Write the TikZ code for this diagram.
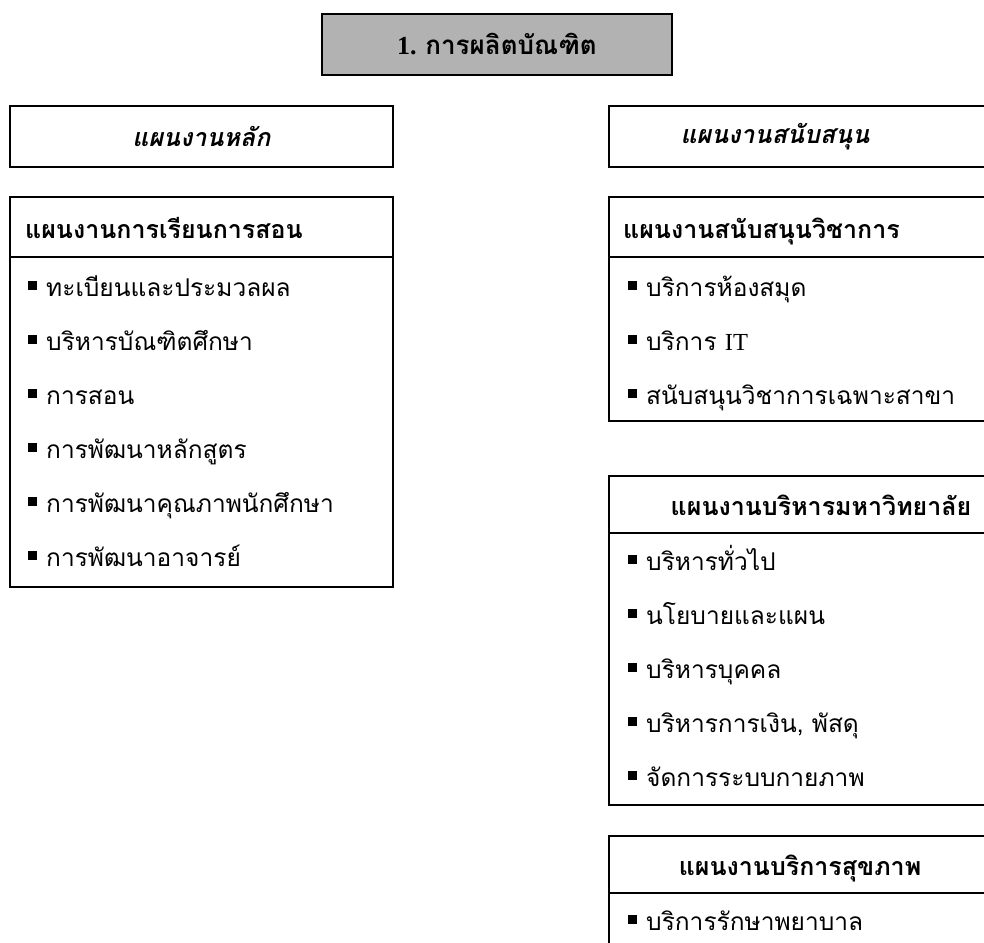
\documentclass[tikz,border=0pt]{standalone}
\usepackage{fontspec}
\setmainfont{Liberation Serif}
\newfontfamily\thaifont[Script=Thai]{Loma}
\usetikzlibrary{positioning}
\newcommand{\sqb}{\rule[6pt]{9pt}{9pt}\hspace{9pt}}

\begin{document}
\begin{tikzpicture}[x=1pt,y=-1pt,
  box/.style={draw,line width=2.5pt},
  hdtext/.style={inner sep=0pt,font=\thaifont\fontsize{25}{29}\selectfont\bfseries},
  ittext/.style={inner sep=0pt,font=\thaifont\fontsize{25}{29}\selectfont\bfseries\itshape},
  item/.style={inner sep=0pt,anchor=base west,font=\thaifont\fontsize{24.5}{28}\selectfont}
]
\useasboundingbox (0,0) rectangle (984,942);
\clip (0,0) rectangle (984,942);

\node[box,fill=black!30,minimum width=350pt,minimum height=61pt,
  font=\fontsize{26}{30}\selectfont\bfseries] (title) at (497,44.5)
  {1. {\thaifont การผลิตบัณฑิต}};

\draw[box] (10,106) rectangle (393,167);
\node[ittext] (mainhd) at (201.5,136.5) {แผนงานหลัก};
\draw[box] (609,106) rectangle (1000,167);
\node[ittext] (supphd) at (775,136.5) {แผนงานสนับสนุน};

\draw[box] (10,197) rectangle (393,587);
\draw[box] (10,257) -- (393,257);
\node[hdtext,anchor=base west] (teach) at (25,238) {แผนงานการเรียนการสอน};
\foreach \t [count=\i] in {ทะเบียนและประมวลผล,บริหารบัณฑิตศึกษา,การสอน,
    การพัฒนาหลักสูตร,การพัฒนาคุณภาพนักศึกษา,การพัฒนาอาจารย์}
  \node[item] (teach\i) at (28,{242+54*\i}) {\sqb\t};

\draw[box] (609,197) rectangle (1000,421);
\draw[box] (609,257) -- (1000,257);
\node[hdtext,anchor=base west] (acad) at (623,238) {แผนงานสนับสนุนวิชาการ};
\node[item] (acad1) at (628,296) {\sqb บริการห้องสมุด};
\node[item] (acad2) at (628,350) {\sqb บริการ {\rmfamily IT}};
\node[item] (acad3) at (628,404) {\sqb สนับสนุนวิชาการเฉพาะสาขา};

\draw[box] (609,476) rectangle (1000,805);
\draw[box] (609,533) -- (1000,533);
\node[hdtext,anchor=base] (admin) at (821,515) {แผนงานบริหารมหาวิทยาลัย};
\foreach \t [count=\i] in {บริหารทั่วไป,นโยบายและแผน,บริหารบุคคล,
    {บริหารการเงิน, พัสดุ},จัดการระบบกายภาพ}
  \node[item] (admin\i) at (628,{516+54*\i}) {\sqb\t};

\draw[box] (609,836) rectangle (1000,1000);
\draw[box] (609,893) -- (1000,893);
\node[hdtext,anchor=base] (health) at (800,875) {แผนงานบริการสุขภาพ};
\node[item] (health1) at (628,930) {\sqb บริการรักษาพยาบาล};
\end{tikzpicture}
\end{document}
